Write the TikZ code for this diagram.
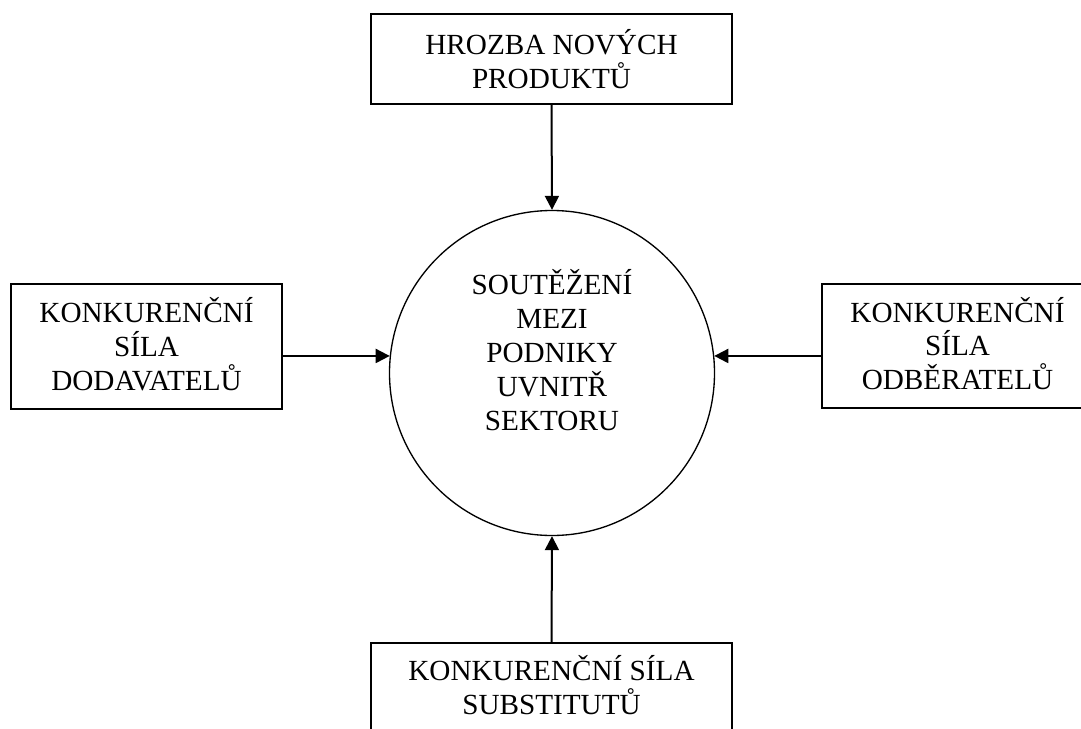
\documentclass[tikz,border=0pt]{standalone}
\usepackage{fontspec}
\setmainfont{Liberation Serif}
\usetikzlibrary{arrows.meta}
\begin{document}
\begin{tikzpicture}[x=0.75pt,y=-0.75pt,
  every node/.style={font=\fontsize{21.9}{25.4}\selectfont, align=center, inner sep=0pt},
  forcebox/.style={draw, line width=1.5pt, rectangle},
  core/.style={draw, line width=1pt, circle, minimum size=243.75pt},
  push/.style={line width=1.5pt, -{Triangle[length=10.5pt,width=10.5pt]}}]
\useasboundingbox (0,0) rectangle (1081,728);
\clip (0,0) rectangle (1081,728);
% five forces
\node[forcebox, minimum width=270.75pt, minimum height=67.5pt] (top) at (551.5,59)
  {HROZBA NOVÝCH\\PRODUKTŮ};
\node[forcebox, minimum width=203.25pt, minimum height=93.75pt, text depth=4pt] (left) at (146.5,346.5)
  {KONKURENČNÍ\\SÍLA\\DODAVATELŮ};
\node[forcebox, minimum width=203.25pt, minimum height=93pt, text depth=4pt] (right) at (957.5,346)
  {KONKURENČNÍ\\SÍLA\\ODBĚRATELŮ};
\node[forcebox, minimum width=270.75pt, minimum height=67.5pt, text depth=4.5pt] (bottom) at (551.5,688)
  {KONKURENČNÍ SÍLA\\SUBSTITUTŮ};
% rivalry in the centre
\node[core] (c) at (552,373) {};
\node (ct) at (552,350) {SOUTĚŽENÍ\\MEZI\\PODNIKY\\UVNITŘ\\SEKTORU};
% arrows towards the centre
\draw[push] (top.south) -- (c.north);
\draw[push] (bottom.north) -- (c.south);
\draw[push] (left.east |- c.174) -- (c.174);
\draw[push] (right.west |- c.6) -- (c.6);
\end{tikzpicture}
\end{document}
